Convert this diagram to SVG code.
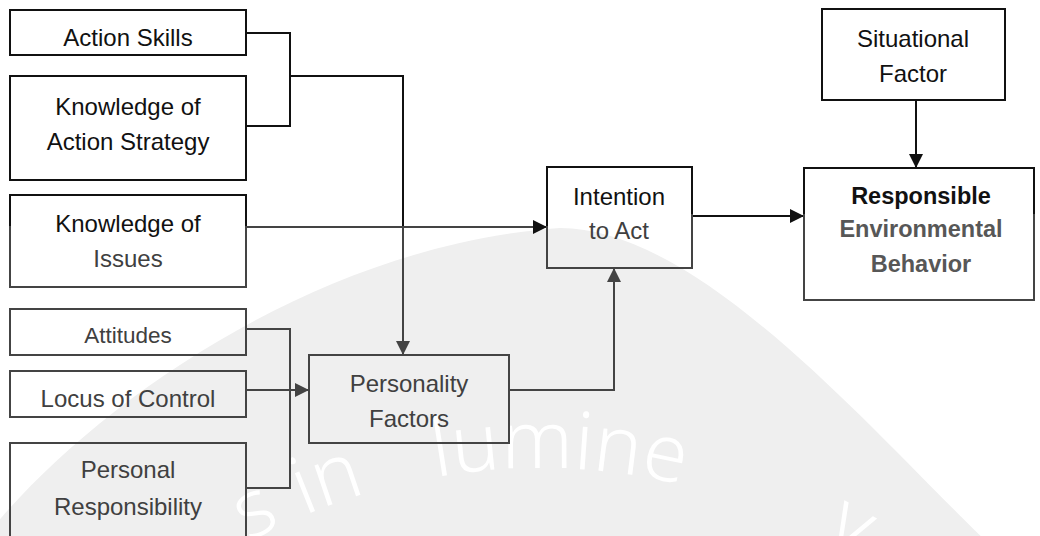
<svg xmlns="http://www.w3.org/2000/svg" width="1040" height="536" viewBox="0 0 1040 536">
  <style>
    .box { fill: none; stroke-width: 2; }
    .dk { stroke: #111; }
    .gr { stroke: #444; }
    .t { font-family: "Liberation Sans", Arial, sans-serif; font-size: 24px; text-anchor: middle; }
    .tb { font-weight: bold; font-size: 23.5px; }
    .k { fill: #111; }
    .g { fill: #404040; }
    .g2 { fill: #575757; }
    .ln { fill: none; stroke-width: 2; }
    .wm { font-family: "Noto Sans", "DejaVu Sans", sans-serif; font-weight: 300; font-size: 80px; fill: #ffffff; text-anchor: middle; }
  </style>
  <defs>
    <marker id="ahK" viewBox="0 0 14 14" refX="14" refY="7" markerWidth="14" markerHeight="14" markerUnits="userSpaceOnUse" orient="auto">
      <path d="M0,0 L14,7 L0,14 Z" fill="#111"/>
    </marker>
    <marker id="ahG" viewBox="0 0 14 14" refX="14" refY="7" markerWidth="14" markerHeight="14" markerUnits="userSpaceOnUse" orient="auto">
      <path d="M0,0 L14,7 L0,14 Z" fill="#444"/>
    </marker>
    <path id="mottoArc" d="M 10,774 A 612 612 0 0 1 1070,774"/>
  </defs>

  <rect width="1040" height="536" fill="#ffffff"/>

  <!-- faint seal in the background -->
  <g id="seal">
    <path d="M -5,525 C 100,400 320,245 560,228 C 700,228 870,430 990,545 L -5,545 Z" fill="#efefef"/>
    <text class="wm"><textPath href="#mottoArc" startOffset="356">s</textPath></text>
    <text class="wm"><textPath href="#mottoArc" startOffset="432">in</textPath></text>
    <text class="wm"><textPath href="#mottoArc" startOffset="660">lumine</textPath></text>
    <text class="wm"><textPath href="#mottoArc" startOffset="954">v</textPath></text>
  </g>

  <!-- connectors -->
  <g id="connectors">
    <path class="ln dk" d="M246,33 H290 V126 H246"/>
    <path class="ln dk" d="M290,76 H403 V227"/>
    <path class="ln gr" d="M403,227 V355" marker-end="url(#ahG)"/>
    <path class="ln gr" d="M246,227 H547" marker-end="url(#ahK)"/>
    <path class="ln gr" d="M246,329 H290 V488 H246"/>
    <path class="ln gr" d="M246,390 H309" marker-end="url(#ahG)"/>
    <path class="ln gr" d="M509,390 H614 V268" marker-end="url(#ahG)"/>
    <path class="ln dk" d="M692,216 H804" marker-end="url(#ahK)"/>
    <path class="ln dk" d="M916,100 V168" marker-end="url(#ahK)"/>
  </g>

  <g id="action-skills">
    <rect class="box dk" x="10" y="10" width="236" height="45"/>
    <text class="t k" x="128" y="46">Action Skills</text>
  </g>

  <g id="knowledge-action-strategy">
    <rect class="box dk" x="10" y="76" width="236" height="104"/>
    <text class="t k" x="128" y="115">Knowledge of</text>
    <text class="t k" x="128" y="150">Action Strategy</text>
  </g>

  <g id="knowledge-issues">
    <rect class="box gr" x="10" y="195" width="236" height="92"/>
    <path class="ln dk" d="M10,226 V195 H246 V226"/>
    <text class="t k" x="128" y="232">Knowledge of</text>
    <text class="t g" x="128" y="267">Issues</text>
  </g>

  <g id="attitudes">
    <rect class="box gr" x="10" y="309" width="236" height="46"/>
    <text class="t g" x="128" y="343" style="font-size:22.5px">Attitudes</text>
  </g>

  <g id="locus-of-control">
    <rect class="box gr" x="10" y="371" width="236" height="46"/>
    <text class="t g" x="128" y="407">Locus of Control</text>
  </g>

  <g id="personal-responsibility">
    <rect class="box gr" x="10" y="443" width="236" height="110"/>
    <text class="t g" x="128" y="478">Personal</text>
    <text class="t g" x="128" y="515">Responsibility</text>
  </g>

  <g id="personality-factors">
    <rect class="box gr" x="309" y="355" width="200" height="88"/>
    <text class="t g" x="409" y="392">Personality</text>
    <text class="t g" x="409" y="427">Factors</text>
  </g>

  <g id="intention-to-act">
    <rect class="box gr" x="547" y="167" width="145" height="101"/>
    <path class="ln dk" d="M547,226 V167 H692 V214"/>
    <text class="t k" x="619" y="205">Intention</text>
    <text class="t g" x="619" y="239">to Act</text>
  </g>

  <g id="situational-factor">
    <rect class="box dk" x="822" y="9" width="183" height="91"/>
    <text class="t k" x="913" y="47">Situational</text>
    <text class="t k" x="913" y="82">Factor</text>
  </g>

  <g id="responsible-behavior">
    <rect class="box gr" x="804" y="168" width="230" height="132"/>
    <path class="ln dk" d="M804,214 V168 H1034 V214"/>
    <text class="t tb k" x="921" y="204">Responsible</text>
    <text class="t tb g2" x="921" y="237">Environmental</text>
    <text class="t tb g2" x="921" y="272">Behavior</text>
  </g>
</svg>
